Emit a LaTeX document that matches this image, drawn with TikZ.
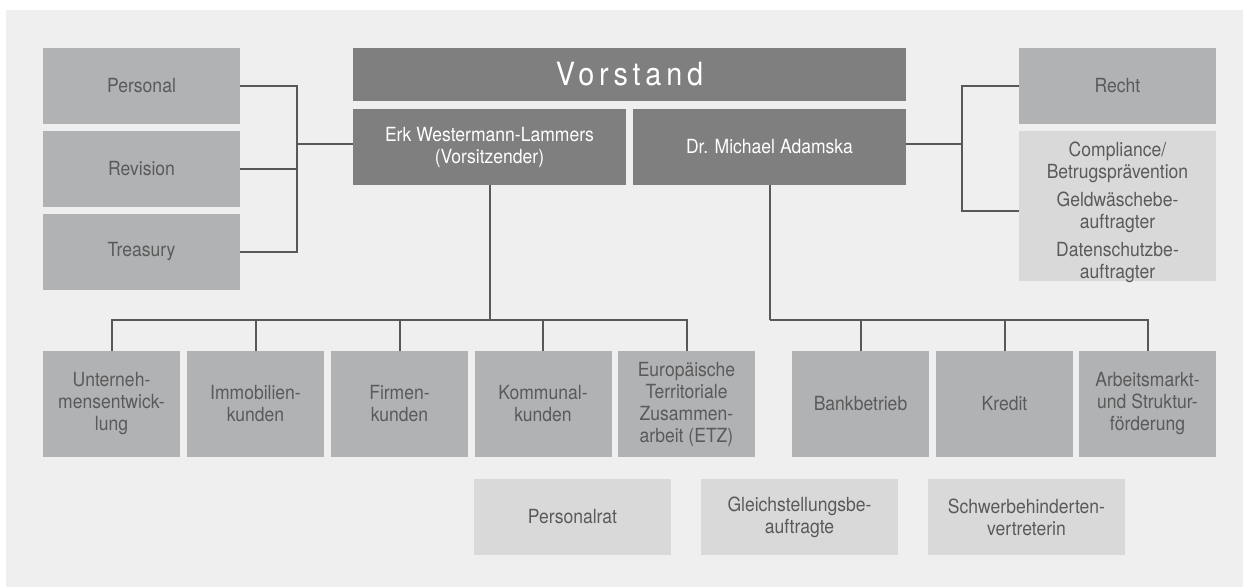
\documentclass[tikz,border=0pt]{standalone}
\usepackage{fontspec}
\setmainfont{TeX Gyre Heros}[FakeStretch=0.9]
\definecolor{bgc}{HTML}{EFEFEF}
\definecolor{darkc}{HTML}{7F7F7F}
\definecolor{midc}{HTML}{B1B2B4}
\definecolor{lightc}{HTML}{D9D9D9}
\definecolor{txtc}{HTML}{5A5A5A}
\definecolor{linec}{HTML}{585858}
\tikzset{
  basebox/.style={rectangle, inner sep=0pt, align=center, font=\fontsize{19.5}{22}\selectfont},
  dbox/.style={basebox, fill=darkc, text=white},
  gbox/.style={basebox, fill=midc, text=txtc},
  lbox/.style={basebox, fill=lightc, text=txtc},
  wide/.style={minimum width=197pt, minimum height=76pt},
  unit/.style={minimum width=137pt, minimum height=106pt},
  conn/.style={draw=linec, line width=2pt},
}
\begin{document}
\begin{tikzpicture}[x=1pt, y=-1pt]
\useasboundingbox (0,0) rectangle (1243,587);
\fill[bgc] (6,10) rectangle (1243,587);
% left staff units
\node[gbox, wide] (pers) at (141.5,86) {Personal};
\node[gbox, wide] (rev) at (141.5,169) {Revision};
\node[gbox, wide] (treas) at (141.5,252) {Treasury};
% board
\node[dbox, minimum width=553pt, minimum height=53pt,
      font=\fontsize{32}{38}\selectfont\addfontfeature{LetterSpace=15}] (vor) at (629.5,74.5) {Vorstand};
\node[dbox, minimum width=273pt, minimum height=76pt] (erk) at (489.5,147) {Erk Westermann-Lammers\\(Vorsitzender)};
\node[dbox, minimum width=273pt, minimum height=76pt] (mich) at (769.5,147) {Dr. Michael Adamska};
% right staff units
\node[gbox, wide] (recht) at (1117.5,86) {Recht};
\node[lbox, minimum width=197pt, minimum height=150pt,
      label={[basebox, text=txtc, yshift=-6.5pt]center:{Compliance/\\Betrugsprävention\\[6pt]Geldwäschebe-\\auftragter\\[6pt]Datenschutzbe-\\auftragter}}] (comp) at (1117.5,206) {};
% departments
\node[gbox, unit] (unt) at (111.5,404) {Unterneh-\\mensentwick-\\lung};
\node[gbox, unit] (imm) at (255.5,404) {Immobilien-\\kunden};
\node[gbox, unit] (fir) at (399.5,404) {Firmen-\\kunden};
\node[gbox, unit] (kom) at (543,404) {Kommunal-\\kunden};
\node[gbox, unit] (etz) at (686.5,404) {Europäische\\Territoriale\\Zusammen-\\arbeit (ETZ)};
\node[gbox, unit] (bank) at (860.5,404) {Bankbetrieb};
\node[gbox, unit] (kred) at (1004.5,404) {Kredit};
\node[gbox, unit] (arb) at (1147.5,404) {Arbeitsmarkt-\\und Struktur-\\förderung};
% representatives
\node[lbox, wide] (prat) at (572.5,517) {Personalrat};
\node[lbox, wide] (gleich) at (799.5,517) {Gleichstellungsbe-\\auftragte};
\node[lbox, wide] (schwer) at (1026.5,517) {Schwerbehinderten-\\vertreterin};
% connectors left
\coordinate (lbus) at (297,144);
\draw[conn] (pers.east) -| (lbus) |- (treas.east);
\draw[conn] (rev.east) -- (rev.east -| lbus);
\draw[conn] (lbus) -- (lbus -| erk.west);
% connectors right
\coordinate (rbus) at (962,144);
\draw[conn] (rbus -| mich.east) -- (rbus);
\draw[conn] (recht.west) -| (rbus) |- ([yshift=-5pt]comp.west);
% lower bus left
\coordinate (lb) at (489.5,320);
\draw[conn] (erk.south) -- (lb);
\draw[conn] (unt.north) -- (unt.north |- lb) -- (etz.north |- lb) -- (etz.north);
\foreach \n in {imm,fir,kom} \draw[conn] (\n.north) -- (\n.north |- lb);
% lower bus right
\coordinate (rb) at (769.5,320);
\draw[conn] (mich.south) -- (rb);
\draw[conn] (rb) -- (arb.north |- rb) -- (arb.north);
\foreach \n in {bank,kred} \draw[conn] (\n.north) -- (\n.north |- rb);
\end{tikzpicture}
\end{document}
